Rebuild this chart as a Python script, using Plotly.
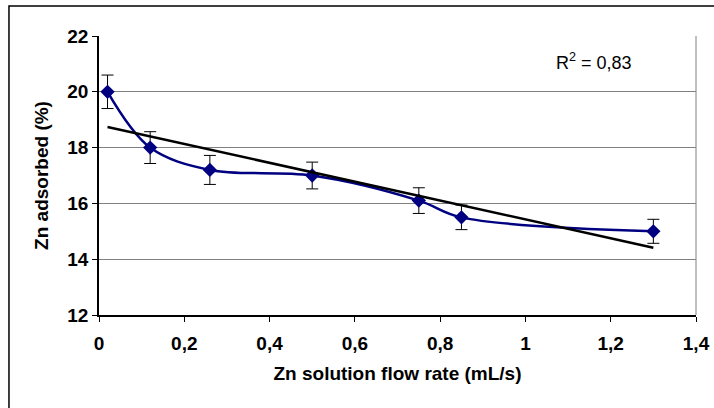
import numpy as np
import plotly.graph_objects as go

# Data
flow_rate = [0.02, 0.12, 0.26, 0.50, 0.75, 0.85, 1.30]
zn_adsorbed = [20.0, 18.0, 17.2, 17.0, 16.1, 15.5, 15.0]
zn_error = [0.6, 0.57, 0.52, 0.48, 0.46, 0.44, 0.43]

x_title = "Zn solution flow rate (mL/s)"
y_title = "Zn adsorbed (%)"

# Linear trendline
slope, intercept = np.polyfit(flow_rate, zn_adsorbed, 1)
x_arr = np.array(flow_rate)
y_arr = np.array(zn_adsorbed)
fit_y = slope * x_arr + intercept
r2 = 1 - np.sum((y_arr - fit_y) ** 2) / np.sum((y_arr - y_arr.mean()) ** 2)
trend_x = [min(flow_rate), max(flow_rate)]
trend_y = [slope * v + intercept for v in trend_x]

FONT = "Liberation Sans, Arial, sans-serif"
BOLD = dict(family=FONT, size=19, color="black", weight="bold")

fig = go.Figure()
fig.add_trace(go.Scatter(
    x=flow_rate, y=zn_adsorbed,
    mode="lines+markers",
    line=dict(color="#000080", width=2.5, shape="spline", smoothing=1.0),
    marker=dict(symbol="diamond", size=11, color="#000080"),
    error_y=dict(type="data", array=zn_error, visible=True,
                 color="black", thickness=1, width=6),
    showlegend=False,
))
fig.add_trace(go.Scatter(
    x=trend_x, y=trend_y, mode="lines",
    line=dict(color="black", width=2.5),
    showlegend=False,
))

fig.add_annotation(
    x=1.16, y=21.07, xref="x", yref="y",
    text="R<sup>2</sup> = " + f"{r2:.2f}".replace(".", ","),
    showarrow=False,
    font=dict(family=FONT, size=18, color="black"),
)

# Plot area right border (gray)
fig.add_shape(type="line", xref="paper", yref="paper", x0=1, x1=1, y0=0, y1=1,
              line=dict(color="#808080", width=1))
# Outer chart border
fig.add_shape(type="rect", xref="paper", yref="paper",
              x0=-0.1508, x1=1.05, y0=-0.37, y1=1.1075,
              line=dict(color="black", width=1.5))

fig.update_layout(
    width=714, height=408,
    margin=dict(l=99, r=18, t=36, b=93, autoexpand=False),
    paper_bgcolor="white", plot_bgcolor="white",
    separators=", ",
    font=dict(family=FONT, size=18, color="black"),
)
fig.update_xaxes(
    range=[0, 1.4], dtick=0.2, tick0=0,
    showgrid=False, zeroline=False, automargin=False,
    showline=True, linecolor="black", linewidth=1.5,
    ticks="outside", ticklen=5, tickcolor="black",
    tickfont=BOLD, ticklabelstandoff=5,
    title=dict(text=x_title, font=BOLD, standoff=14),
)
fig.update_yaxes(
    range=[12, 22], dtick=2, tick0=12,
    showgrid=True, gridcolor="#808080", gridwidth=1,
    zeroline=False, automargin=False,
    showline=True, linecolor="black", linewidth=1.5,
    ticks="outside", ticklen=5, tickcolor="black",
    tickfont=BOLD,
    title=dict(text=y_title, font=BOLD, standoff=14),
)

fig.write_html(
    "out.html",
    config={"displayModeBar": False},
    post_script="document.body.style.margin='0';document.body.style.overflow='hidden';",
)
